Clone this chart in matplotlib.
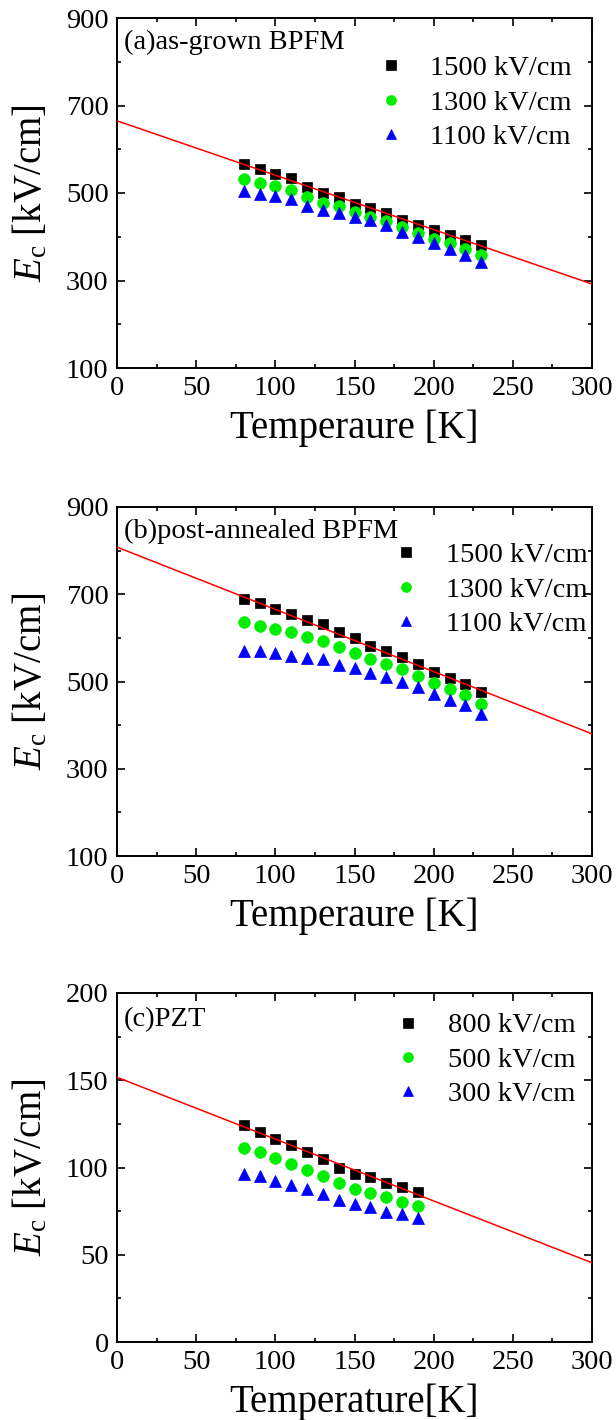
import matplotlib
matplotlib.use("Agg")
import matplotlib.pyplot as plt
from matplotlib.ticker import MultipleLocator
import numpy as np

plt.rcParams['font.family'] = ['Liberation Serif', 'DejaVu Serif']
plt.rcParams['mathtext.fontset'] = 'custom'
plt.rcParams['mathtext.rm'] = 'Liberation Serif'
plt.rcParams['mathtext.it'] = 'Liberation Serif:italic'

# ---------------- data ----------------
T_bpfm = [80, 90, 100, 110, 120, 130, 140, 150, 160, 170, 180, 190, 200, 210, 220, 230]
T_pzt = [80, 90, 100, 110, 120, 130, 140, 150, 160, 170, 180, 190]

# (a) as-grown BPFM
a_1500 = [566, 555, 543, 534, 514, 499, 492, 476, 465, 454, 438, 427, 415, 404, 393, 381]
a_1300 = [532, 522, 516, 507, 492, 478, 471, 457, 446, 436, 423, 409, 396, 385, 371, 358]
a_1100 = [504, 498, 493, 486, 471, 461, 455, 446, 438, 427, 412, 400, 386, 373, 358, 343]
a_labels = ['1500 kV/cm', '1300 kV/cm', '1100 kV/cm']
a_fit = [665, 292]

# (b) post-annealed BPFM
b_1500 = [688, 679, 666, 655, 641, 631, 614, 599, 582, 571, 556, 540, 521, 507, 494, 475]
b_1300 = [636, 628, 620, 613, 601, 592, 578, 565, 552, 540, 529, 513, 496, 483, 469, 449]
b_1100 = [571, 570, 565, 559, 555, 552, 538, 530, 519, 511, 498, 487, 471, 458, 445, 426]
b_labels = ['1500 kV/cm', '1300 kV/cm', '1100 kV/cm']
b_fit = [808, 380]

# (c) PZT
c_800 = [124.4, 120.5, 116.3, 112.9, 109.1, 104.7, 99.9, 96.3, 94.4, 91.3, 89.0, 86.2]
c_500 = [111.0, 109.1, 105.3, 102.0, 98.6, 95.1, 91.0, 87.7, 85.6, 82.9, 80.4, 78.0]
c_300 = [96.1, 95.1, 92.5, 90.0, 87.5, 84.8, 81.4, 78.9, 77.6, 74.7, 73.4, 71.1]
c_labels = ['800 kV/cm', '500 kV/cm', '300 kV/cm']
c_fit = [151.7, 45.4]

T_fit = [0, 300]

bpfm_yticks = [100, 300, 500, 700, 900]
pzt_yticks = [0, 50, 100, 150, 200]
xticks = [0, 50, 100, 150, 200, 250, 300]

panel_titles = ['(a)as-grown BPFM', '(b)post-annealed BPFM', '(c)PZT']
xlabels = ['Temperaure [K]', 'Temperaure [K]', 'Temperature[K]']
ylabel = r'$E_{\rm c}$ [kV/cm]'

# ---------------- figure ----------------
W, H = 616, 1420
fig = plt.figure(figsize=(W / 100, H / 100), dpi=100)

def axes_px(left, top, right, bottom):
    return fig.add_axes([left / W, 1 - bottom / H, (right - left) / W, (bottom - top) / H])

FS = 20.5
LFS = 28

panels = [
    dict(box=(117, 18, 592, 368), T=T_bpfm, ys=[a_1500, a_1300, a_1100], labels=a_labels, fit=a_fit,
         yticks=bpfm_yticks, minor=100, leg=(0.540, 0.893), title_y=0.929),
    dict(box=(117, 507, 592, 856), T=T_bpfm, ys=[b_1500, b_1300, b_1100], labels=b_labels, fit=b_fit,
         yticks=bpfm_yticks, minor=100, leg=(0.573, 0.899), title_y=0.929),
    dict(box=(117, 993, 592, 1342), T=T_pzt, ys=[c_800, c_500, c_300], labels=c_labels, fit=c_fit,
         yticks=pzt_yticks, minor=25, leg=(0.577, 0.944), title_y=0.923),
]

markers = ['s', 'o', '^']
colors = ['#000000', '#00ee00', '#0000ff']
msizes = [7.8, 8.4, 9.0]

for i, p in enumerate(panels):
    ax = axes_px(*p['box'])
    ax.plot(T_fit, p['fit'], color='#ff0000', lw=1.1, zorder=3)
    for y, m, c, ms, lab in zip(p['ys'], markers, colors, msizes, p['labels']):
        ax.plot(p['T'], y, linestyle='none', marker=m, color=c, markersize=ms,
                markeredgewidth=0.5, markeredgecolor=c, label=lab, zorder=2)
    ax.set_xlim(xticks[0], xticks[-1])
    ax.set_ylim(p['yticks'][0], p['yticks'][-1])
    ax.set_xticks(xticks)
    ax.set_yticks(p['yticks'])
    ax.xaxis.set_minor_locator(MultipleLocator(25))
    ax.yaxis.set_minor_locator(MultipleLocator(p['minor']))
    ax.tick_params(which='both', direction='in', top=True, right=True, width=1.2,
                   labelsize=FS, colors='black')
    ax.tick_params(which='major', length=6, pad=6)
    ax.tick_params(which='minor', length=3)
    for s in ax.spines.values():
        s.set_linewidth(1.4)
    ax.set_xlabel(xlabels[i], fontsize=LFS, labelpad=6)
    ax.set_ylabel(ylabel, fontsize=LFS, labelpad=11)
    ax.text(0.015, p['title_y'], panel_titles[i], transform=ax.transAxes, fontsize=FS,
            ha='left', va='center')
    ax.legend(loc='upper left', bbox_to_anchor=p['leg'], frameon=False, fontsize=FS,
              handlelength=1.2, handletextpad=0.8, labelspacing=0.3, borderpad=0,
              borderaxespad=0, numpoints=1, markerscale=0.85)

fig.savefig('out.png', dpi=100)
